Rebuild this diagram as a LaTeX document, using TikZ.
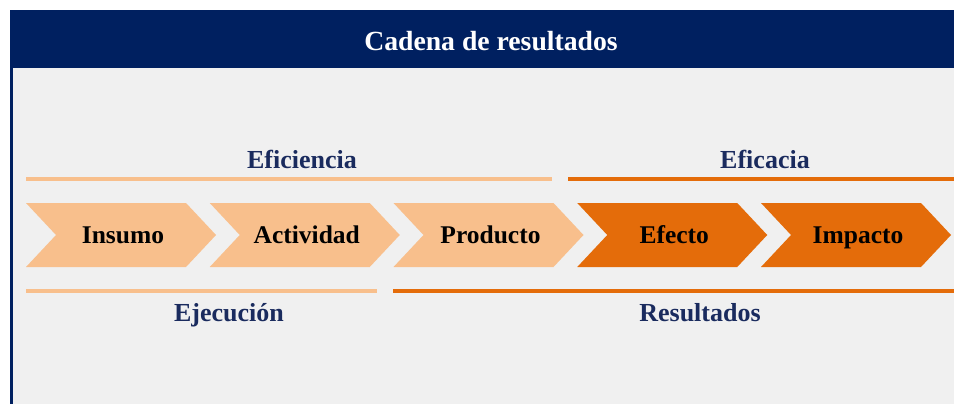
\documentclass[tikz,border=0pt]{standalone}
\usepackage{fontspec}
\setmainfont{Liberation Serif}
\definecolor{hdr}{HTML}{002060}
\definecolor{bgc}{HTML}{F0F0F0}
\definecolor{lor}{HTML}{F8BF8C}
\definecolor{dor}{HTML}{E46C0A}
\definecolor{lbl}{HTML}{1A2B5E}
\tikzset{
  fixh/.style={text height=0.7em, text depth=0.22em, inner sep=0pt},
  chevtext/.style={fixh, font=\bfseries\fontsize{25.5}{30}\selectfont, text=black},
  lbltext/.style={fixh, font=\bfseries\fontsize{26}{30}\selectfont, text=lbl},
  bar/.style={line width=4pt},
}
\begin{document}
\begin{tikzpicture}[x=1pt,y=-1pt]
\useasboundingbox (0,0) rectangle (954,404);
\fill[white] (0,0) rectangle (954,404);
\fill[bgc] (10,68) rectangle (954,404);
\fill[hdr] (10,10) rectangle (954,68);
\fill[hdr] (10,68) rectangle (13,404);
\node[fixh, font=\bfseries\fontsize{27.7}{32}\selectfont, text=white] (title) at (491,48) {Cadena de resultados};
% chevrons
\foreach \i/\t/\c in {0/Insumo/lor,1/Actividad/lor,2/Producto/lor,3/Efecto/dor,4/Impacto/dor}{
  \pgfmathsetmacro{\L}{26+183.75*\i}
  \fill[\c] (\L,203) -- ({\L+160},203) -- ({\L+190},235) -- ({\L+160},267) -- (\L,267) -- ({\L+30},235) -- cycle;
  \node[chevtext] (n\i) at ({\L+97},241) {\t};
}
% bars
\coordinate (a1) at (26,179); \coordinate (a2) at (552,179);
\coordinate (b1) at (568,179); \coordinate (b2) at (954,179);
\coordinate (c1) at (26,291); \coordinate (c2) at (377,291);
\coordinate (d1) at (393,291); \coordinate (d2) at (954,291);
\draw[bar, lor] (a1) -- (a2);
\draw[bar, dor] (b1) -- (b2);
\draw[bar, lor] (c1) -- (c2);
\draw[bar, dor] (d1) -- (d2);
\node[lbltext] (efi) at (302,166) {Eficiencia};
\node[lbltext] (efa) at (765,166) {Eficacia};
\node[lbltext] (eje) at (229,319) {Ejecución};
\node[lbltext] (res) at (700,319) {Resultados};
\end{tikzpicture}
\end{document}
